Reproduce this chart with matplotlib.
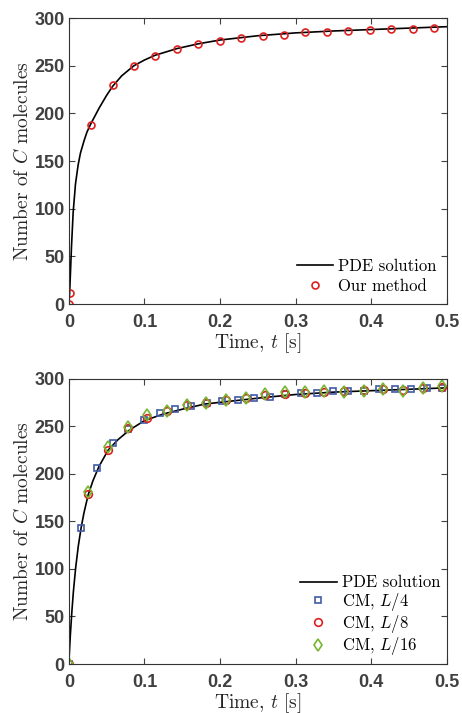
import numpy as np
import matplotlib
matplotlib.use('Agg')
import matplotlib.pyplot as plt

plt.rcParams['mathtext.fontset'] = 'cm'

# PDE 解 (上圖)
t_pde_top = [0, 0.0008, 0.0015, 0.0025, 0.0035, 0.0057, 0.0088, 0.0123, 0.0154, 0.02, 0.024,
             0.029, 0.04, 0.05, 0.058, 0.07, 0.086, 0.1, 0.114, 0.143, 0.171, 0.2,
             0.25, 0.3, 0.35, 0.4, 0.45, 0.5]
n_pde_top = [0, 8, 20, 40, 60, 96, 126, 146, 158.5, 171, 180.5,
             189, 205.5, 219, 228.5, 239.5, 250, 256, 261, 268, 273, 277,
             281.5, 284.5, 286.5, 288, 289.5, 291]

# Our method
t_our = [0, 0.0013, 0.0295, 0.0582, 0.0864, 0.1146, 0.1433, 0.1715, 0.1997, 0.228, 0.2566,
         0.2848, 0.313, 0.3417, 0.37, 0.398, 0.4268, 0.455, 0.483]
n_our = [0, 12, 188, 230, 250, 260.5, 268, 272.7, 276.5, 279, 281.4,
         282.8, 285.3, 285.5, 286, 287.4, 288.4, 288.4, 289.1]

# PDE 解 (下圖)
t_pde_bot = [0, 0.001, 0.002, 0.004, 0.006, 0.009, 0.0125, 0.0163, 0.02, 0.0256, 0.032, 0.04,
             0.052, 0.065, 0.08, 0.1, 0.125, 0.15, 0.18, 0.22, 0.26, 0.3, 0.35, 0.4, 0.45, 0.5]
n_pde_bot = [0, 16, 30.5, 55, 76, 101, 124, 143.5, 159, 178, 193, 208,
             225, 236, 246, 256, 263, 268, 273.5, 277, 280.5, 283.5, 286, 287.5, 289, 290.5]

# CM, L/4
t_l4 = [0, 0.0163, 0.037, 0.0578, 0.0785, 0.0992, 0.12, 0.141, 0.162, 0.1825, 0.2033, 0.2244,
        0.245, 0.266, 0.2866, 0.307, 0.3285, 0.349, 0.37, 0.3907, 0.411, 0.432, 0.453, 0.474, 0.494]
n_l4 = [0, 143.5, 206, 232, 247, 257, 264, 268, 271, 274.7, 276.8, 278,
        280, 281, 284, 285, 285, 286.7, 287.4, 287.7, 289, 289, 289.5, 290, 290.5]

# CM, L/8 與 L/16
t_l8 = [0, 0.026, 0.052, 0.078, 0.104, 0.13, 0.156, 0.182, 0.208, 0.234,
        0.26, 0.286, 0.312, 0.338, 0.364, 0.39, 0.416, 0.442, 0.468, 0.494]
n_l8 = [0, 179, 225, 248, 259, 266, 272, 275, 278, 280,
        283, 284, 285, 286, 287, 288, 289, 288, 290, 291]
t_l16 = t_l8
n_l16 = [0, 181, 228, 249, 262, 266, 272, 275, 278, 280,
         284, 286, 286, 287, 286, 287, 289, 287, 290, 292]

xticks = [0, 0.1, 0.2, 0.3, 0.4, 0.5]
xticklabels = ['0', '0.1', '0.2', '0.3', '0.4', '0.5']
yticks = [0, 50, 100, 150, 200, 250, 300]

red = '#dd2020'
blue = '#3f5aa8'
green = '#77b530'
tickcol = '#404040'


def style_axes(ax):
    ax.set_xlim(0, 0.5)
    ax.set_ylim(0, 300)
    ax.set_xticks(xticks)
    ax.set_xticklabels(xticklabels)
    ax.set_yticks(yticks)
    ax.tick_params(direction='in', top=True, right=True, length=4, width=0.8,
                   colors=tickcol, labelsize=13, pad=3)
    ax.tick_params(axis='x', pad=7)
    for lab in ax.get_xticklabels() + ax.get_yticklabels():
        lab.set_fontweight('bold')
        lab.set_family('Liberation Sans')
    for sp in ax.spines.values():
        sp.set_color('#333333')
        sp.set_linewidth(0.8)
    ax.set_xlabel(r'Time, $t$ [s]', family='cmr10', fontsize=14, color='#262626', labelpad=0.5)
    ax.set_ylabel(r'Number of $C$ molecules', family='cmr10', fontsize=14, color='#262626', labelpad=2)


fig = plt.figure(figsize=(4.62, 7.13), dpi=100)
ax1 = fig.add_axes([0.149, 0.5736, 0.818, 0.401])
ax2 = fig.add_axes([0.149, 0.0687, 0.818, 0.400])

ax1.plot(t_pde_top, n_pde_top, color='black', lw=1.2, label='PDE solution')
ax1.plot(t_our, n_our, 'o', ms=5, mfc='none', mec=red, mew=1.2, label='Our method')
style_axes(ax1)
ax1.legend(loc='lower right', frameon=False, prop={'family': 'cmr10', 'size': 12},
           handlelength=2.2, handletextpad=0.3, labelspacing=0.3, borderaxespad=0.2)

ax2.plot(t_pde_bot, n_pde_bot, color='black', lw=1.2, label='PDE solution')
ax2.plot(t_l4, n_l4, 's', ms=5, mfc='none', mec=blue, mew=1.2, label=r'CM, $L/4$')
ax2.plot(t_l8, n_l8, 'o', ms=5.5, mfc='none', mec=red, mew=1.2, label=r'CM, $L/8$')
ax2.plot(t_l16, n_l16, 'd', ms=6, mfc='none', mec=green, mew=1.2, label=r'CM, $L/16$')
style_axes(ax2)
ax2.legend(loc='lower right', frameon=False, prop={'family': 'cmr10', 'size': 12},
           handlelength=2.2, handletextpad=0.3, labelspacing=0.02, borderaxespad=0.0)

fig.savefig('out.png', dpi=100)
